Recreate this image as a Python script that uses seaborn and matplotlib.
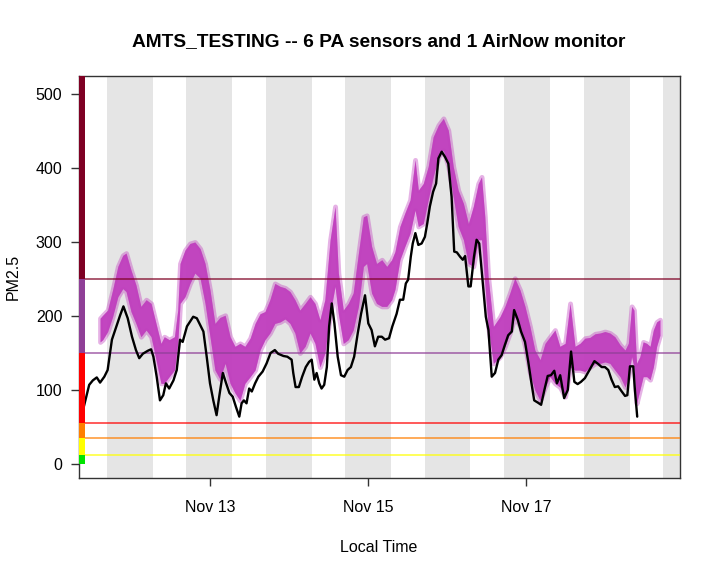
import numpy as np
import pandas as pd
import matplotlib
matplotlib.use('Agg')
import matplotlib.pyplot as plt
from matplotlib.patches import Rectangle
import seaborn as sns

# hours after Nov 11 00:00 local time
start_day = pd.Timestamp('2020-11-11')

airnow_hours = [9.7, 11.3, 12.4, 13.6, 14.6, 15.9, 16.9, 18.2, 19.4, 20.7,
                21.7, 23.0, 24.3, 25.5, 26.5, 27.6, 29.1, 30.1, 30.8, 31.8,
                32.8, 33.8, 34.6, 35.6, 36.9, 37.9, 38.9, 39.7, 41.0, 42.9,
                44.0, 45.0, 46.0, 47.0, 48.0, 49.0, 50.0, 50.8, 51.9, 52.9,
                53.9, 54.9, 55.9, 56.9, 57.6, 58.3, 59.1, 59.9, 60.7, 61.7,
                62.7, 64.0, 65.2, 66.4, 67.7, 68.7, 70.3, 71.5, 72.8, 73.3,
                74.0, 75.0, 76.0, 77.1, 78.1, 78.9, 79.7, 80.4, 81.2, 81.9,
                82.7, 83.5, 84.2, 85.0, 85.8, 86.8, 87.8, 88.8, 89.8, 90.8,
                91.8, 92.9, 93.9, 95.1, 96.1, 97.1, 98.1, 99.1, 100.2, 101.2,
                102.4, 103.4, 104.7, 105.7, 106.7, 107.5, 108.2, 109.0, 109.6, 110.4,
                111.3, 112.3, 113.3, 114.0, 114.8, 115.8, 116.7, 117.4, 118.4, 119.4,
                120.4, 121.4, 122.2, 123.0, 124.0, 124.8, 125.5, 126.5, 127.2, 128.2,
                129.0, 129.8, 130.8, 131.8, 132.6, 133.6, 134.6, 135.6, 136.6, 137.6,
                138.6, 139.7, 140.4, 141.5, 142.5, 143.7, 144.7, 145.5, 146.5, 147.6,
                148.6, 149.6, 150.6, 151.6, 152.6, 153.4, 154.4, 155.6, 156.7, 157.7,
                158.7, 159.7, 160.7, 161.9, 163.4, 164.8, 166.0, 167.0, 168.0, 169.0,
                170.0, 171.0, 172.0, 173.1, 174.1, 174.8, 175.6, 176.6, 177.1, 177.8]
airnow_pm25 = [78, 107, 113, 117, 110, 118, 127, 168, 184, 201,
               213, 197, 172, 154, 143, 149, 153, 155, 145, 118,
               86, 93, 109, 102, 113, 127, 168, 165, 186, 199,
               197, 188, 179, 145, 109, 86, 66, 91, 123, 109,
               96, 91, 77, 64, 82, 86, 82, 102, 98, 109,
               118, 125, 136, 150, 154, 149, 146, 145, 141, 123,
               104, 104, 118, 131, 138, 141, 114, 123, 109, 102,
               107, 131, 186, 217, 190, 145, 120, 118, 127, 131,
               145, 177, 203, 228, 190, 181, 159, 172, 172, 168,
               170, 186, 203, 222, 222, 244, 249, 280, 298, 312,
               296, 298, 307, 325, 348, 368, 379, 413, 422, 415,
               406, 361, 287, 286, 280, 276, 281, 240, 240, 280,
               303, 298, 249, 199, 181, 118, 123, 141, 147, 161,
               174, 179, 208, 195, 179, 165, 138, 114, 86, 83,
               80, 100, 119, 120, 126, 109, 120, 89, 100, 152,
               111, 108, 111, 116, 128, 139, 135, 131, 131, 127,
               114, 104, 105, 98, 92, 93, 132, 132, 100, 64]

# envelope of the 6 PurpleAir sensors
pa_hours = [14.6, 15.4, 16.9, 18.4, 20.0, 21.5, 22.5, 24.0, 25.5, 27.0,
            28.6, 30.1, 31.6, 33.1, 34.1, 35.6, 37.2, 38.2, 38.9, 40.4,
            41.9, 43.4, 45.0, 46.5, 48.0, 49.5, 51.0, 52.6, 54.1, 55.6,
            57.1, 58.6, 60.2, 61.7, 63.2, 64.7, 66.2, 67.7, 69.3, 70.8,
            72.3, 73.8, 75.3, 76.9, 78.4, 79.9, 81.4, 82.9, 84.5, 86.0,
            87.0, 88.5, 90.0, 91.5, 93.1, 94.6, 95.6, 97.1, 98.6, 100.2,
            101.7, 103.2, 104.2, 105.7, 107.2, 108.8, 110.3, 111.3, 112.8, 114.3,
            115.8, 117.4, 118.9, 120.4, 121.9, 123.4, 125.0, 126.5, 128.0, 129.5,
            130.5, 131.5, 132.5, 134.1, 136.1, 137.6, 139.1, 140.6, 142.2, 143.7,
            145.2, 146.7, 148.3, 149.8, 151.3, 152.8, 154.3, 155.9, 157.4, 158.9,
            160.4, 161.9, 163.4, 165.0, 166.5, 168.0, 169.5, 171.0, 172.6, 174.1,
            175.1, 176.1, 176.8, 177.6, 178.6, 179.6, 180.7, 181.7, 182.7, 183.7,
            184.7]
pa_high = [197, 201, 208, 235, 267, 282, 285, 262, 242, 213,
           222, 217, 190, 163, 172, 168, 172, 208, 271, 289,
           298, 300, 291, 271, 235, 190, 198, 201, 172, 159,
           163, 159, 170, 190, 203, 206, 222, 244, 240, 238,
           233, 222, 208, 217, 226, 217, 195, 222, 303, 348,
           258, 208, 217, 231, 285, 334, 336, 294, 271, 276,
           267, 276, 287, 321, 339, 357, 411, 370, 379, 402,
           442, 458, 467, 451, 402, 370, 352, 325, 348, 379,
           388, 334, 253, 186, 199, 213, 231, 251, 235, 213,
           186, 154, 141, 163, 172, 181, 159, 163, 217, 159,
           163, 170, 171, 176, 177, 179, 177, 172, 161, 154,
           163, 213, 208, 136, 145, 165, 163, 159, 181, 192,
           195]
pa_low = [165, 168, 179, 199, 226, 237, 233, 206, 190, 172,
          181, 172, 141, 109, 109, 118, 127, 163, 217, 226,
          244, 258, 251, 217, 172, 127, 115, 136, 109, 96,
          86, 109, 118, 127, 154, 168, 177, 190, 192, 196,
          190, 177, 150, 159, 177, 163, 131, 150, 203, 240,
          203, 163, 168, 181, 213, 267, 271, 231, 217, 213,
          213, 222, 236, 276, 294, 312, 343, 321, 325, 357,
          388, 415, 424, 402, 361, 321, 303, 271, 267, 303,
          303, 244, 186, 136, 145, 159, 177, 199, 186, 159,
          123, 100, 86, 104, 118, 109, 104, 91, 131, 127,
          127, 125, 131, 136, 136, 138, 136, 127, 118, 104,
          118, 145, 131, 82, 100, 118, 118, 114, 131, 159,
          174]

# night (sunset -> sunrise), hours after Nov 11 00:00
night_start = [16.7, 40.6, 65.1, 89.0, 113.3, 137.4, 161.6, 185.7]
night_end = [30.7, 54.6, 79.0, 103.0, 127.1, 151.4, 175.6, 199.0]

# AQI categories
aqi_breaks = [0, 12, 35.5, 55.5, 150.5, 250.5]
aqi_colors = ['#00E400', '#FFFF00', '#FF7E00', '#FF0000', '#8F3F97', '#7E0023']

tick_days = [2, 4, 6]
tick_labels = ['Nov 13', 'Nov 15', 'Nov 17']
y_ticks = [0, 100, 200, 300, 400, 500]

x_range = (8.2, 190.8)
y_range = (-18.9, 524.3)


def to_time(h):
    return start_day + pd.to_timedelta(np.asarray(h, dtype=float), unit='h')


airnow = pd.DataFrame({'time': to_time(airnow_hours), 'pm25': airnow_pm25})
pa = pd.DataFrame({'time': to_time(pa_hours), 'high': pa_high, 'low': pa_low})

sns.set_style('white')
plt.rcParams['font.family'] = ['Liberation Sans', 'DejaVu Sans']
plt.rcParams['text.color'] = 'black'
plt.rcParams['xtick.color'] = 'black'
plt.rcParams['ytick.color'] = 'black'

fig = plt.figure(figsize=(7.2, 5.76), dpi=100)
ax = fig.add_axes([79 / 720, 1 - 478 / 576, 601 / 720, 402 / 576])

# night shading
for s, e in zip(night_start, night_end):
    ax.axvspan(to_time(s), to_time(e), color='#E5E5E5', lw=0, zorder=0)

# PA sensors: soft edge then solid band
ax.fill_between(pa['time'], pa['low'], pa['high'], color='#C040BE',
                alpha=0.4, lw=3.5, zorder=2)
ax.fill_between(pa['time'], pa['low'], pa['high'], color='#C040BE',
                alpha=0.95, lw=0, zorder=3)

# AQI lines
for b, c in zip(aqi_breaks[1:], aqi_colors[1:]):
    ax.axhline(b, color=c, alpha=0.65, lw=1.4, zorder=4)

# AirNow monitor
sns.lineplot(data=airnow, x='time', y='pm25', color='black', lw=1.7,
             ax=ax, zorder=5)

# AQI color bar along the left edge
tops = aqi_breaks[1:] + [y_range[1]]
for lo, hi, c in zip(aqi_breaks, tops, aqi_colors):
    ax.add_patch(Rectangle((0, lo), 6 / 601, hi - lo, color=c, lw=0,
                           transform=ax.get_yaxis_transform(), zorder=6))

ax.set_xlim(to_time(x_range[0]), to_time(x_range[1]))
ax.set_ylim(*y_range)
ax.set_xticks(list(to_time([d * 24 for d in tick_days])))
ax.set_xticklabels(tick_labels)
ax.set_yticks(y_ticks)
ax.set_xlabel('')
ax.set_ylabel('')
ax.tick_params(axis='both', direction='out', length=6, width=1,
               color='#333333', labelcolor='black', labelsize=11.5,
               bottom=True, left=True)
ax.tick_params(axis='x', pad=10)
ax.tick_params(axis='y', pad=6)
for sp in ax.spines.values():
    sp.set_visible(True)
    sp.set_color('#333333')
    sp.set_linewidth(1)

fig.text(379 / 720, 1 - 42 / 576, 'AMTS_TESTING -- 6 PA sensors and 1 AirNow monitor',
         ha='center', va='center', fontsize=13.8, fontweight='bold', color='black')
fig.text(379 / 720, 1 - 547 / 576, 'Local Time', ha='center', va='center',
         fontsize=11.5, color='black')
fig.text(13 / 720, 1 - 277 / 576, 'PM2.5', ha='center', va='center',
         rotation=90, fontsize=11.5, color='black')

fig.savefig('out.png', dpi=100)
